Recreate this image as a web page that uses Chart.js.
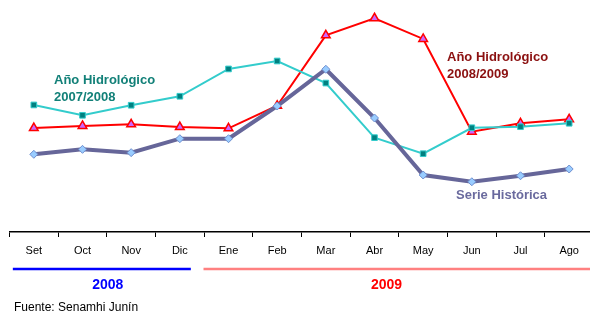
<!DOCTYPE html>
<html><head><meta charset="utf-8">
<script src="https://cdn.jsdelivr.net/npm/chart.js@4/dist/chart.umd.min.js"></script>
<style>
html,body{margin:0;padding:0;background:#fff;overflow:hidden}
#wrap{width:590px;height:313px;overflow:hidden;position:relative}
</style></head>
<body><div id="wrap"><canvas id="c" width="600" height="313"></canvas></div>
<script>
const months = ["Set","Oct","Nov","Dic","Ene","Feb","Mar","Abr","May","Jun","Jul","Ago"];
const hidro0708 = [84.7,77.8,84.5,90.5,108.7,114,99.3,62.9,52.2,69.5,70.2,72.5];
const hidro0809 = [69.3,70.7,71.8,70,69.1,84.2,131.1,142.5,128.7,66.9,72.5,75.1];
const serieHistorica = [51.8,55.1,52.9,62.2,62.2,84,108.5,76,38,33.5,37.5,42];
const yearLabels = ["2008","2009"];
const sourceText = "Fuente: Senamhi Junín";

const F = "'Liberation Sans', Arial, sans-serif";
const overlay = {
  id:'overlay',
  afterDraw(chart){
    const ctx = chart.ctx, x = chart.scales.x;
    ctx.save();
    const yl = 269;
    ctx.lineWidth = 2.5;
    ctx.strokeStyle = '#0000ff';
    ctx.beginPath(); ctx.moveTo(x.getPixelForValue(0)-21, yl); ctx.lineTo(x.getPixelForValue(3)+11, yl); ctx.stroke();
    ctx.strokeStyle = '#ff8080';
    ctx.beginPath(); ctx.moveTo(x.getPixelForValue(4)-25, yl); ctx.lineTo(x.getPixelForValue(11)+30, yl); ctx.stroke();
    ctx.font = 'bold 14px ' + F;
    ctx.textAlign = 'center'; ctx.textBaseline = 'middle';
    ctx.fillStyle = '#0000ff';
    ctx.fillText(yearLabels[0], (x.getPixelForValue(1)+x.getPixelForValue(2))/2 + 1, 285);
    ctx.fillStyle = '#ff0000';
    ctx.fillText(yearLabels[1], x.getPixelForValue(7)+12, 285);
    ctx.font = '12px ' + F;
    ctx.fillStyle = '#000';
    ctx.textAlign = 'left';
    ctx.fillText(sourceText, 14, 308);
    // series annotations
    ctx.font = 'bold 13px ' + F;
    ctx.fillStyle = '#128078';
    ctx.fillText('Año Hidrológico', 54, 80);
    ctx.fillText('2007/2008', 54, 97);
    ctx.fillStyle = '#8b1010';
    ctx.fillText('Año Hidrológico', 447, 57);
    ctx.fillText('2008/2009', 447, 74);
    ctx.fillStyle = '#6a6a9e';
    ctx.fillText('Serie Histórica', 456, 195);
    ctx.restore();
  }
};

new Chart(document.getElementById('c'), {
  type:'line',
  data:{
    labels: months,
    datasets:[
      {label:'Serie Histórica', data: serieHistorica, borderColor:'#666699', borderWidth:4,
       pointStyle:'rectRot', pointRadius:4, pointBackgroundColor:'#99ccff', pointBorderColor:'#6f8fcf', pointBorderWidth:1, tension:0},
      {label:'Año Hidrológico 2007/2008', data: hidro0708, borderColor:'#33cccc', borderWidth:2,
       pointStyle:'rect', pointRadius:4, pointBackgroundColor:'#008080', pointBorderColor:'#33cccc', pointBorderWidth:1, tension:0},
      {label:'Año Hidrológico 2008/2009', data: hidro0809, borderColor:'#ff0000', borderWidth:2,
       pointStyle:'triangle', pointRadius:5, pointBackgroundColor:'#cc66ff', pointBorderColor:'#ff0000', pointBorderWidth:1.5, tension:0}
    ]
  },
  options:{
    responsive:false, animation:false, devicePixelRatio:1,
    clip:false,
    layout:{padding:{left:9.5, right:6, top:7, bottom:0}},
    plugins:{legend:{display:false}, tooltip:{enabled:false}},
    scales:{
      y:{display:false, min:0, max:150},
      x:{
        offset:true,
        grid:{display:true, offset:true, drawOnChartArea:false, drawTicks:true, tickLength:5, color:'#000', lineWidth:1},
        border:{display:true, color:'#000', width:1.5},
        ticks:{color:'#000', font:{family:F, size:11}, padding:7, maxRotation:0, autoSkip:false},
        afterFit(s){ s.height = 81; }
      }
    }
  },
  plugins:[overlay]
});
</script></body></html>
